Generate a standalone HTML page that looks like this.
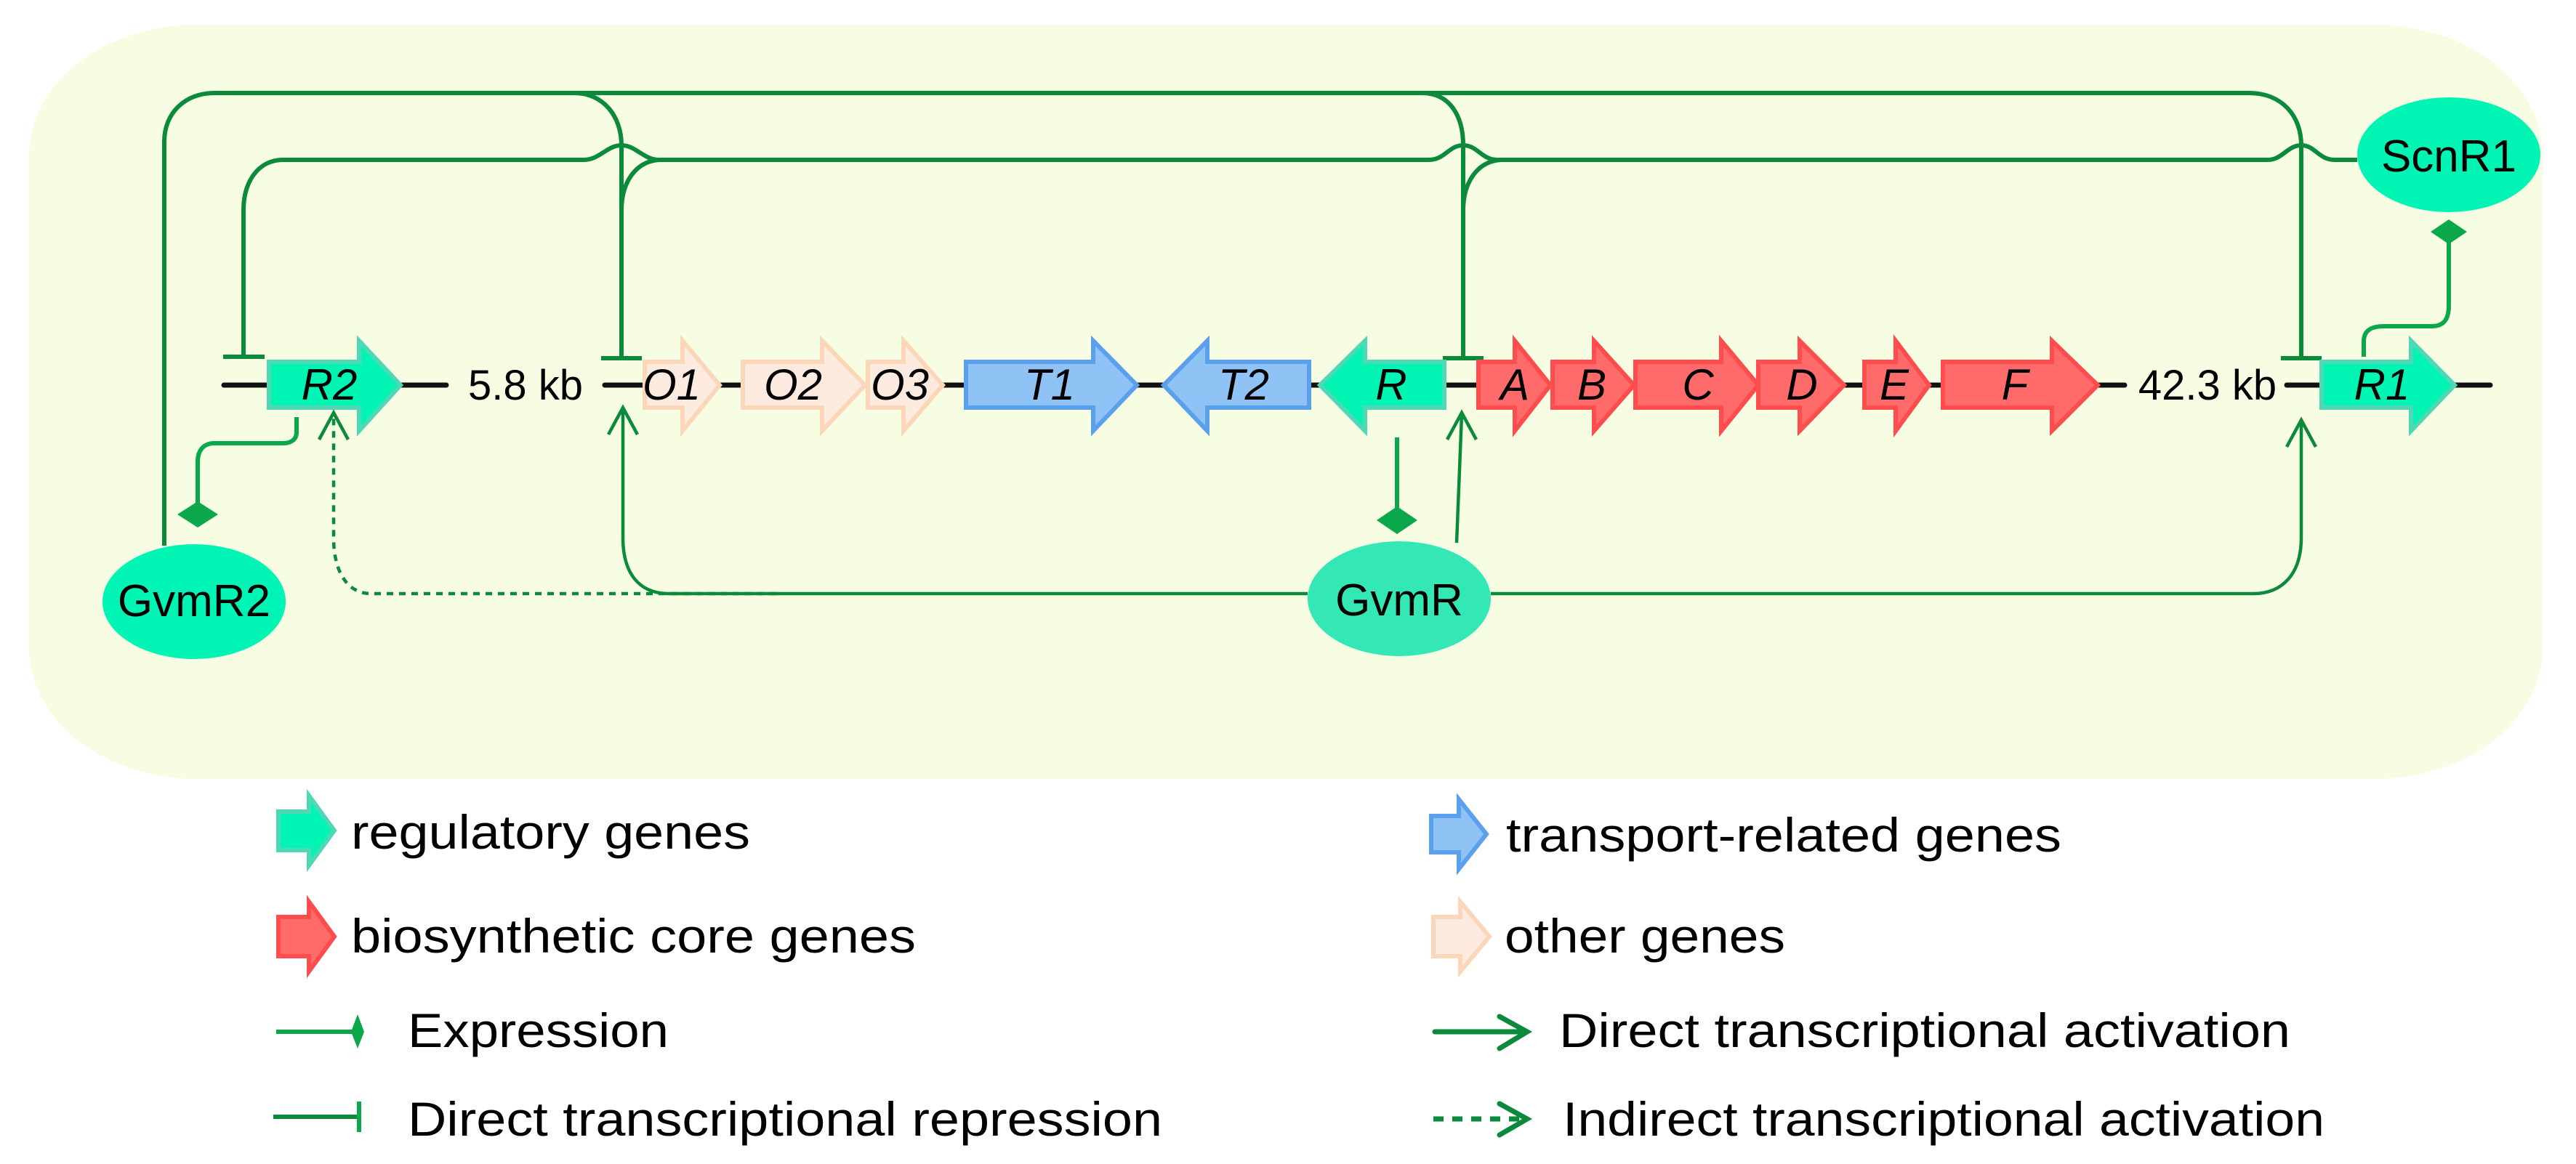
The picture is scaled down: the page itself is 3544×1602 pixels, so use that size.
<!DOCTYPE html>
<html><head><meta charset="utf-8"><style>
html,body{margin:0;padding:0;background:#fff;}
svg{display:block;}
</style></head><body>
<svg width="3544" height="1602" viewBox="0 0 3544 1602" xmlns="http://www.w3.org/2000/svg" font-family="Liberation Sans, sans-serif">
<rect x="40" y="34" width="3458" height="1038" rx="230" ry="180" fill="#f6fde3"/>

<!-- DNA lines -->
<g stroke="#111" stroke-width="7" stroke-linecap="round">
<line x1="308" y1="530" x2="614" y2="530"/>
<line x1="832" y1="530" x2="2923" y2="530"/>
<line x1="3146" y1="530" x2="3426" y2="530"/>
</g>

<!-- regulation lines -->
<g fill="none" stroke="#0a8a3a" stroke-width="6">
<path d="M226,751 V195 C226,155 255,128 295,128 H3094 C3140,128 3166,160 3166,200 V493"/>
<path d="M790,128 C830,128 855,160 855,200 V493"/>
<path d="M1956,128 C1995,128 2013,160 2013,200 V493"/>
<path d="M3243,220 H3212 C3190,220 3185,200 3166,200 C3147,200 3140,220 3120,220 H2060 C2038,220 2033,200 2013,200 C1993,200 1988,220 1966,220 H907 C885,220 875,200 855,200 C835,200 825,220 803,220 H390 C355,220 335,250 335,290 V491"/>
<path d="M907,220 C875,222 855,250 855,290"/>
<path d="M2065,220 C2033,222 2013,250 2013,290"/>
<line x1="307" y1="491" x2="364" y2="491"/>
<line x1="827" y1="493" x2="883" y2="493"/>
<line x1="1985" y1="493" x2="2041" y2="493"/>
<line x1="3138" y1="493" x2="3194" y2="493"/>
</g>
<!-- expression -->
<g fill="none" stroke="#0aa84a" stroke-width="6">
<path d="M408,574 V595 C408,605 400,610 390,610 H295 C280,610 272,620 272,635 V700"/>
<path d="M1922,602 V705"/>
<path d="M3252,491 V470 C3252,455 3262,449 3280,449 H3345 C3362,449 3369,440 3369,420 V330"/>
</g>
<g fill="#0aa84a">
<polygon points="272,690 300,708 272,726 244,708"/>
<polygon points="1922,697 1950,716 1922,735 1894,716"/>
<polygon points="3369,302 3394,319 3369,336 3344,319"/>
</g>
<!-- activation -->
<g fill="none" stroke="#0a8a3a" stroke-width="4.5">
<path d="M2004,747 L2011,570"/>
<path d="M1991,605 L2011,568 L2031,605"/>
<path d="M1799,817 H920 C880,817 857,790 857,740 V563"/>
<path d="M837,598 L857,561 L877,598"/>
<path d="M2051,817 H3100 C3140,817 3166,790 3166,740 V580"/>
<path d="M3146,615 L3166,578 L3186,615"/>
<path d="M1068,817 H510 C480,817 459,790 459,740 V570" stroke-dasharray="9 8"/>
<path d="M439,605 L459,568 L479,605"/>
</g>

<!-- genes -->
<g stroke-width="6" stroke-linejoin="miter">
<!-- R2 -->
<polygon points="370,498 494,498 494,469 551,530 494,593 494,561 370,561" fill="#00f5b5" stroke="#4fd8b5"/>
<!-- O -->
<polygon points="887,498 939,498 939,469 990,530 939,593 939,561 887,561" fill="#fdebe0" stroke="#fcd6b8"/>
<polygon points="1022,498 1131,498 1131,469 1190,530 1131,593 1131,561 1022,561" fill="#fdebe0" stroke="#fcd6b8"/>
<polygon points="1194,498 1243,498 1243,469 1297,530 1243,593 1243,561 1194,561" fill="#fdebe0" stroke="#fcd6b8"/>
<!-- T -->
<polygon points="1329,498 1504,498 1504,469 1564,530 1504,593 1504,561 1329,561" fill="#8fc3f5" stroke="#5aa0ec"/>
<polygon points="1801,498 1661,498 1661,469 1601,530 1661,593 1661,561 1801,561" fill="#8fc3f5" stroke="#5aa0ec"/>
<!-- R -->
<polygon points="1987,498 1878,498 1878,469 1816,530 1878,593 1878,561 1987,561" fill="#00f5b5" stroke="#4fd8b5"/>
<!-- A-F -->
<polygon points="2034,498 2084,498 2084,469 2133,530 2084,593 2084,561 2034,561" fill="#ff6b6b" stroke="#ff4d4d"/>
<polygon points="2136,498 2193,498 2193,469 2248,530 2193,593 2193,561 2136,561" fill="#ff6b6b" stroke="#ff4d4d"/>
<polygon points="2250,498 2368,498 2368,469 2419,530 2368,593 2368,561 2250,561" fill="#ff6b6b" stroke="#ff4d4d"/>
<polygon points="2419,498 2476,498 2476,469 2537,530 2476,593 2476,561 2419,561" fill="#ff6b6b" stroke="#ff4d4d"/>
<polygon points="2565,498 2608,498 2608,469 2654,530 2608,593 2608,561 2565,561" fill="#ff6b6b" stroke="#ff4d4d"/>
<polygon points="2673,498 2823,498 2823,469 2886,530 2823,593 2823,561 2673,561" fill="#ff6b6b" stroke="#ff4d4d"/>
<!-- R1 -->
<polygon points="3194,498 3317,498 3317,469 3377,530 3317,593 3317,561 3194,561" fill="#00f5b5" stroke="#4fd8b5"/>
</g>
<g font-size="60" font-style="italic" text-anchor="middle" fill="#000">
<text x="453" y="550">R2</text>
<text x="924" y="550">O1</text>
<text x="1091" y="550">O2</text>
<text x="1238" y="550">O3</text>
<text x="1444" y="550">T1</text>
<text x="1711" y="550">T2</text>
<text x="1914" y="550">R</text>
<text x="2084" y="550">A</text>
<text x="2190" y="550">B</text>
<text x="2336" y="550">C</text>
<text x="2479" y="550">D</text>
<text x="2606" y="550">E</text>
<text x="2772" y="550">F</text>
<text x="3277" y="550">R1</text>
</g>
<g font-size="58" text-anchor="middle" fill="#000">
<text x="723" y="550">5.8 kb</text>
<text x="3037" y="550">42.3 kb</text>
</g>

<!-- nodes -->
<ellipse cx="267" cy="828" rx="126" ry="79" fill="#00f5b5"/>
<ellipse cx="1925" cy="824" rx="126" ry="79" fill="#33e8b5"/>
<ellipse cx="3369" cy="213" rx="126" ry="79" fill="#00f5b5"/>
<g font-size="62" text-anchor="middle" fill="#000">
<text x="267" y="848">GvmR2</text>
<text x="1925" y="847">GvmR</text>
<text x="3369" y="236">ScnR1</text>
</g>

<!-- legend -->
<g stroke-width="6">
<polygon points="383,1117 425,1117 425,1095 460,1143 425,1191 425,1170 383,1170" fill="#00f5b5" stroke="#4fd8b5"/>
<polygon points="383,1262 425,1262 425,1241 460,1289 425,1337 425,1316 383,1316" fill="#ff6b6b" stroke="#ff4d4d"/>
<polygon points="1969,1123 2007,1123 2007,1100 2045,1148 2007,1196 2007,1173 1969,1173" fill="#8fc3f5" stroke="#5aa0ec"/>
<polygon points="1972,1262 2009,1262 2009,1241 2049,1289 2009,1337 2009,1316 1972,1316" fill="#fdebe0" stroke="#fcd6b8"/>
</g>
<g stroke="#0aa84a" stroke-width="6" fill="none">
<line x1="380" y1="1420" x2="487" y2="1420"/>
<line x1="376" y1="1537" x2="494" y2="1537" stroke="#0a8a3a"/>
<line x1="494" y1="1516" x2="494" y2="1558"/>
</g>
<polygon points="492,1396 501,1420 492,1443 483,1420" fill="#0aa84a"/>
<g stroke="#0a8a3a" stroke-width="7" fill="none" stroke-linecap="round">
<line x1="1974" y1="1420" x2="2100" y2="1420"/>
<path d="M2063,1399 L2101,1420 L2063,1443"/>
<line x1="1972" y1="1540" x2="2100" y2="1540" stroke-dasharray="14 12" stroke-linecap="butt"/>
<path d="M2063,1519 L2101,1540 L2063,1562"/>
</g>
<g font-size="66" fill="#000" lengthAdjust="spacingAndGlyphs">
<text x="483" y="1168" textLength="549" lengthAdjust="spacingAndGlyphs">regulatory genes</text>
<text x="483" y="1311" textLength="777" lengthAdjust="spacingAndGlyphs">biosynthetic core genes</text>
<text x="561" y="1441" textLength="359" lengthAdjust="spacingAndGlyphs">Expression</text>
<text x="561" y="1563" textLength="1038" lengthAdjust="spacingAndGlyphs">Direct transcriptional repression</text>
<text x="2072" y="1172" textLength="764" lengthAdjust="spacingAndGlyphs">transport-related genes</text>
<text x="2070" y="1311" textLength="386" lengthAdjust="spacingAndGlyphs">other genes</text>
<text x="2145" y="1441" textLength="1006" lengthAdjust="spacingAndGlyphs">Direct transcriptional activation</text>
<text x="2150" y="1563" textLength="1048" lengthAdjust="spacingAndGlyphs">Indirect transcriptional activation</text>
</g>
</svg>
</body></html>
